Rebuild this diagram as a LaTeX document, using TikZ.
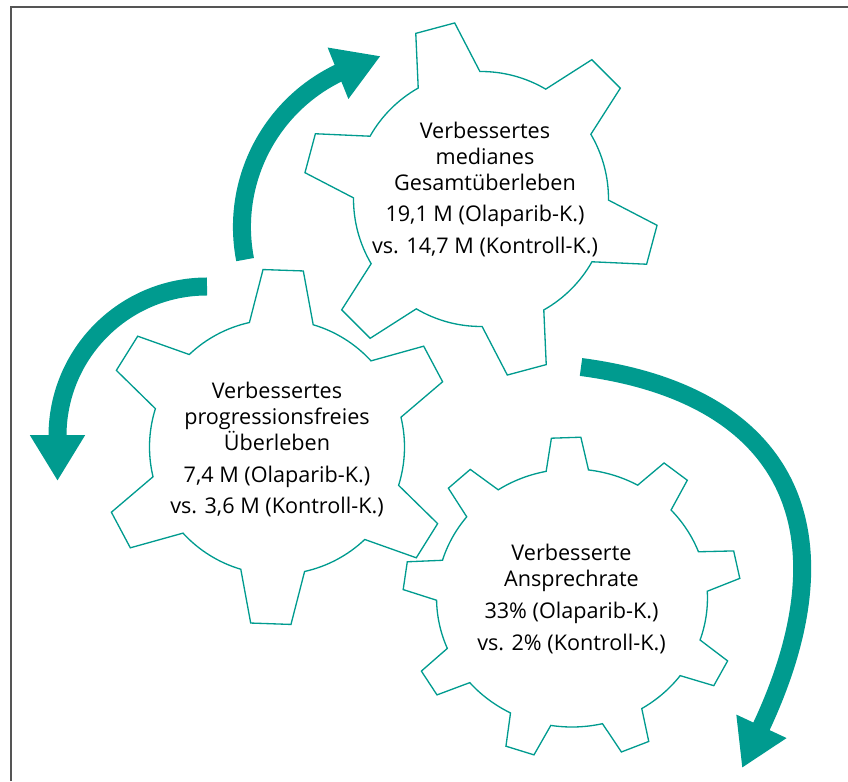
\documentclass[tikz,border=0pt]{standalone}
\usepackage{fontspec}
\setmainfont{Open Sans}
\usepackage{tikz}
\usepackage{xcolor}
\usetikzlibrary{arrows.meta}
\definecolor{olateal}{HTML}{009B8F}
\definecolor{framegray}{HTML}{555555}

\begin{document}
\begin{tikzpicture}[
        x=0.02cm, y=0.02cm,
        gear/.style={
          draw=olateal,
          line width=0.75pt
        },
        geartext/.style={
          align=center,
          inner sep=0pt,
          font=\fontsize{12.3}{14.8}\selectfont
        },
        cyclearrow/.style={
          -{Triangle[length=0.92cm, width=1.04cm]},
          line width=0.36cm,
          olateal
        },
        outerframe/.style={
          draw=framegray,
          line width=0.7pt
        }
      ]

      \useasboundingbox (0,0) rectangle (848,781);
      \draw[outerframe] (11,0) -- (11,774) -- (848,774);

      \begin{scope}[shift={(481,582)}]
        \draw[gear] (105-14.5:127.5)
          \foreach \a in {105,165,...,405} {
            -- (\a-6.5:178) -- (\a+6.5:178) -- (\a+14.5:127.5)
            arc[start angle=\a+14.5, end angle=\a+45.5, radius=127.5]
          } -- cycle;
      \end{scope}

      \begin{scope}[shift={(277,334)}]
        \draw[gear] (88-14.5:127.5)
          \foreach \a in {88,148,...,388} {
            -- (\a-6.5:178) -- (\a+6.5:178) -- (\a+14.5:127.5)
            arc[start angle=\a+14.5, end angle=\a+45.5, radius=127.5]
          } -- cycle;
      \end{scope}

      \begin{scope}[shift={(572,183)}, xscale=1.05]
        \draw[gear] (92-9:129)
          \foreach \a in {92,132,...,412} {
            -- (\a-5:161) -- (\a+5:161) -- (\a+9:129)
            arc[start angle=\a+9, end angle=\a+31, radius=129]
          } -- cycle;
      \end{scope}

      \node[geartext] (overall) at (485,591.5) {Verbessertes\\medianes\\Gesamtüberleben\\[3.4pt]19,1 M (Olaparib-K.)\\[3.4pt]vs. 14,7 M (Kontroll-K.)};
      \node[geartext] (progression) at (277,331.5) {Verbessertes\\progressionsfreies\\Überleben\\[3.4pt]7,4 M (Olaparib-K.)\\[3.4pt]vs. 3,6 M (Kontroll-K.)};
      \node[geartext] (response) at (571.5,182) {Verbesserte\\Ansprechrate\\[3.4pt]33\% (Olaparib-K.)\\[3.4pt]vs. 2\% (Kontroll-K.)};

      \coordinate (upstart) at (245.1,521.4);
      \coordinate (leftstart) at (207,494.5);
      \coordinate (rightstart) at (581,414);

      \draw[cyclearrow] (upstart) arc[start angle=191, end angle=116, radius=171] -- ++(22:46);
      \draw[cyclearrow] (leftstart) arc[start angle=90, end angle=180, radius=149.5] -- ++(0,-45);
      \draw[cyclearrow] (rightstart) .. controls (786,387) and (853,254) .. (763,58) -- ++(-21,-45);

      \end{tikzpicture}
\end{document}
